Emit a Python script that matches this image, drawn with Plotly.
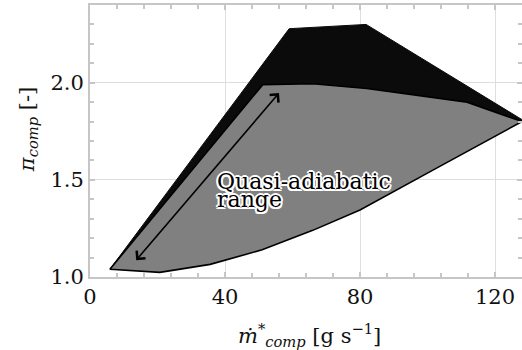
import plotly.graph_objects as go

# Outer (black) operating envelope
outer_x = [5.9, 59.0, 81.8, 128.0, 128.0, 5.9]
outer_y = [1.04, 2.278, 2.30, 1.81, 1.80, 1.04]

# Inner (grey) quasi-adiabatic region
inner_x = [5.9, 51.2, 66.0, 82.0, 111.7, 128.0, 101.6, 80.0, 66.0, 51.0, 35.6, 20.7, 5.9]
inner_y = [1.04, 1.99, 1.995, 1.97, 1.90, 1.80, 1.55, 1.345, 1.24, 1.14, 1.065, 1.024, 1.04]

# Arrow endpoints (data coords)
arrow_start = (13.3, 1.079)
arrow_end = (56.0, 1.947)

x_ticks = [0, 40, 80, 120]
y_ticks = [1.0, 1.5, 2.0]

x_title = "<i>ṁ</i><sup>*</sup><sub><i>comp</i></sub> [g s<sup>−1</sup>]"
y_title = "<i>π</i><sub><i>comp</i></sub> [-]"

FONT = "'DejaVu Serif', 'Liberation Serif', serif"
axis_col = "#c6c6c6"
grid_col = "#dedede"

fig = go.Figure()
fig.add_trace(go.Scatter(x=outer_x, y=outer_y, mode="lines", fill="toself",
                         fillcolor="#0b0b0b", line=dict(color="#0b0b0b", width=1),
                         hoverinfo="skip", showlegend=False))
fig.add_trace(go.Scatter(x=inner_x, y=inner_y, mode="lines", fill="toself",
                         fillcolor="#808080", line=dict(color="#000000", width=1.6),
                         hoverinfo="skip", showlegend=False))

fig.add_annotation(x=arrow_end[0], y=arrow_end[1], ax=arrow_start[0], ay=arrow_start[1],
                   xref="x", yref="y", axref="x", ayref="y", text="", showarrow=True,
                   arrowhead=4, startarrowhead=4, arrowside="end+start",
                   arrowsize=1.4, startarrowsize=1.4, arrowwidth=1.6, arrowcolor="#000000")

shadow = ("2px 0 0 #fff, -2px 0 0 #fff, 0 2px 0 #fff, 0 -2px 0 #fff, "
          "1.5px 1.5px 0 #fff, -1.5px -1.5px 0 #fff, 1.5px -1.5px 0 #fff, -1.5px 1.5px 0 #fff")
fig.add_annotation(x=37.0, y=1.49, xref="x", yref="y", text="Quasi-adiabatic",
                   showarrow=False, xanchor="left", yanchor="middle",
                   font=dict(family=FONT, size=22, color="#000", shadow=shadow))
fig.add_annotation(x=37.0, y=1.397, xref="x", yref="y", text="range",
                   showarrow=False, xanchor="left", yanchor="middle",
                   font=dict(family=FONT, size=22, color="#000", shadow=shadow))

# Axis titles as annotations for precise placement
fig.add_annotation(x=0.509, y=-0.213, xref="paper", yref="paper", text=x_title,
                   showarrow=False, xanchor="center", yanchor="middle",
                   font=dict(family=FONT, size=21, color="#111"))
fig.add_annotation(x=-0.1435, y=0.54, xref="paper", yref="paper", text=y_title,
                   showarrow=False, xanchor="center", yanchor="middle", textangle=-90,
                   font=dict(family=FONT, size=21, color="#111"))

fig.update_layout(
    width=522, height=350,
    margin=dict(l=90, r=0, t=5, b=73),
    plot_bgcolor="white", paper_bgcolor="white",
    font=dict(family=FONT, size=21, color="#111"),
    xaxis=dict(range=[0, 128], tickvals=x_ticks, ticks="inside", ticklen=5, tickcolor=axis_col,
               tickwidth=1.5, showline=True, linecolor=axis_col, linewidth=2, mirror="ticks",
               showgrid=True, gridcolor=grid_col, gridwidth=1, zeroline=False, automargin=False,
               minor=dict(dtick=8, ticks="inside", ticklen=4, tickcolor=axis_col, showgrid=False)),
    yaxis=dict(range=[1.0, 2.40], tickvals=y_ticks, tickformat=".1f", ticks="inside", ticklen=5,
               tickcolor=axis_col, tickwidth=1.5, showline=True, linecolor=axis_col, linewidth=2,
               mirror="ticks", showgrid=True, gridcolor=grid_col, gridwidth=1, zeroline=False,
               automargin=False,
               minor=dict(dtick=0.1, ticks="inside", ticklen=4, tickcolor=axis_col, showgrid=False)),
)

fig.write_html("out.html", config={"displayModeBar": False},
               post_script="document.body.style.margin='0px';")
